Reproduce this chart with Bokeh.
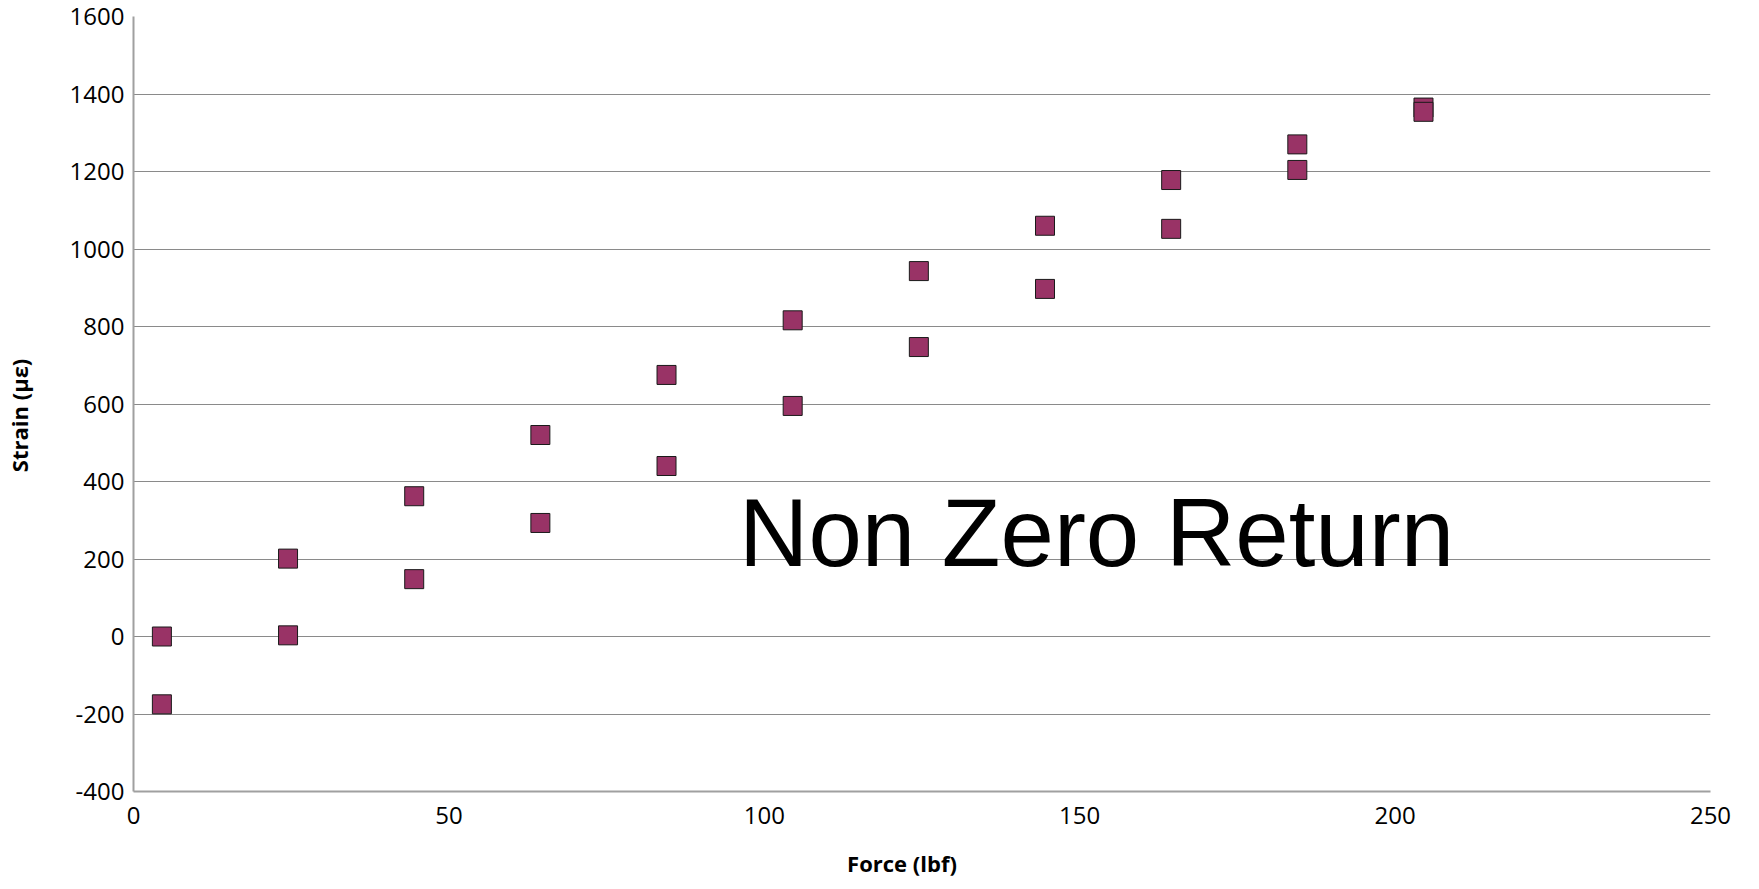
from bokeh.plotting import figure
from bokeh.models import FixedTicker, Range1d, Label, ColumnDataSource
from bokeh.embed import file_html
from bokeh.resources import INLINE

# Data
force = [4.5, 4.5, 24.5, 24.5, 44.5, 44.5, 64.5, 64.5, 84.5, 84.5, 104.5, 104.5,
         124.5, 124.5, 144.5, 144.5, 164.5, 164.5, 184.5, 184.5, 204.5, 204.5]
strain = [0, -175, 201, 3, 362, 148, 520, 293, 675, 440, 816, 595,
          943, 747, 1060, 897, 1178, 1052, 1270, 1204, 1365, 1354]
x_ticks = [0, 50, 100, 150, 200, 250]
y_ticks = [-400, -200, 0, 200, 400, 600, 800, 1000, 1200, 1400, 1600]
annotation = "Non Zero Return"
x_title = "Force (lbf)"
y_title = "Strain (με)"

FONT = "Open Sans"
NBSP = "\u00a0"

p = figure(width=1740, height=880, output_backend="svg", toolbar_location=None,
           x_range=Range1d(0, 250), y_range=Range1d(-400, 1600),
           min_border_left=129, min_border_right=30, min_border_top=16,
           min_border_bottom=89)
p.outline_line_color = None
p.background_fill_color = "white"
p.border_fill_color = "white"

src = ColumnDataSource(dict(x=force, y=strain))
p.scatter("x", "y", source=src, marker="square", size=19,
          fill_color="#993366", line_color="#1a1a1a", line_width=1)

for ax in (p.xaxis[0], p.yaxis[0]):
    ax.major_tick_line_color = None
    ax.minor_tick_line_color = None
    ax.major_tick_out = 0
    ax.major_tick_in = 0
    ax.minor_tick_out = 0
    ax.minor_tick_in = 0
    ax.axis_line_color = "#a0a0a0"
    ax.axis_line_width = 2
    ax.major_label_text_font = FONT
    ax.major_label_text_font_size = "24px"
    ax.major_label_text_color = "black"
    ax.axis_label_text_font = FONT
    ax.axis_label_text_font_style = "bold"
    ax.axis_label_text_font_size = "22px"
    ax.axis_label_text_color = "black"

p.xaxis[0].ticker = FixedTicker(ticks=x_ticks)
p.yaxis[0].ticker = FixedTicker(ticks=y_ticks)
p.yaxis[0].major_label_overrides = {t: str(t) for t in y_ticks if t < 0}
p.xaxis[0].major_label_standoff = 15
p.yaxis[0].major_label_standoff = 9
# trailing no-break spaces nudge the titles slightly off-centre, as in the reference
p.xaxis[0].axis_label = x_title + NBSP * 7
p.yaxis[0].axis_label = y_title + NBSP * 4
p.xaxis[0].axis_label_standoff = 21
p.yaxis[0].axis_label_standoff = 33

p.xgrid.grid_line_color = None
p.ygrid.ticker = FixedTicker(ticks=y_ticks)
p.ygrid.grid_line_color = "#8a8a8a"
p.ygrid.grid_line_width = 1.2

p.add_layout(Label(x=96, y=268, text=annotation, text_font="Liberation Sans",
                   text_font_size="96px", text_color="black",
                   text_baseline="alphabetic", text_align="left"))

open("out.html", "w").write(file_html(p, INLINE))
